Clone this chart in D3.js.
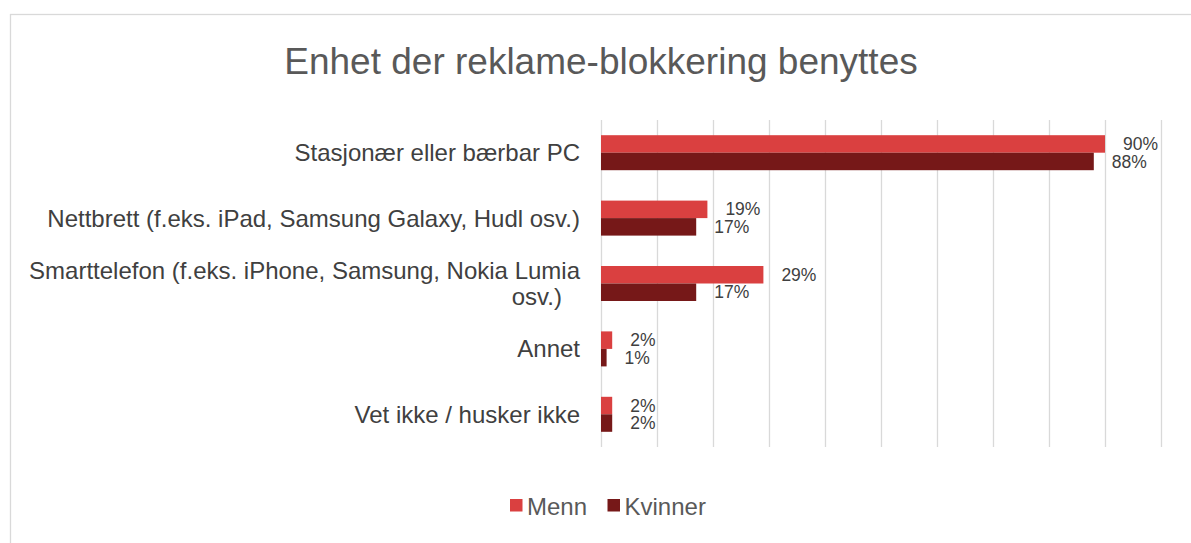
<!DOCTYPE html>
<html>
<head>
<meta charset="utf-8">
<script src="https://cdn.jsdelivr.net/npm/d3@7"></script>
<style>
  html, body { margin: 0; padding: 0; background: #fff; }
  svg { display: block; font-family: "Liberation Sans", Arial, sans-serif; }
</style>
</head>
<body>
<svg id="chart" width="1191" height="543"></svg>
<script>
// Categories (top to bottom); labels may wrap onto several lines
const categories = [
  "Stasjonær eller bærbar PC",
  "Nettbrett (f.eks. iPad, Samsung Galaxy, Hudl osv.)",
  "Smarttelefon (f.eks. iPhone, Samsung, Nokia Lumia osv.)",
  "Annet",
  "Vet ikke / husker ikke"
];
const categoryLines = [
  ["Stasjonær eller bærbar PC"],
  ["Nettbrett (f.eks. iPad, Samsung Galaxy, Hudl osv.)"],
  ["Smarttelefon (f.eks. iPhone, Samsung, Nokia Lumia", "osv.)"],
  ["Annet"],
  ["Vet ikke / husker ikke"]
];
const seriesNames = ["Menn", "Kvinner"];
const menn    = [90, 19, 29, 2, 2];
const kvinner = [88, 17, 17, 1, 2];
const seriesColors = ["#DA4040", "#761818"];
const xTicks = [0, 10, 20, 30, 40, 50, 60, 70, 80, 90, 100];
const title = "Enhet der reklame-blokkering benyttes";

const svg = d3.select("#chart");

// Outer chart frame
svg.append("rect")
  .attr("x", 10.5).attr("y", 14.5)
  .attr("width", 1200).attr("height", 600)
  .attr("fill", "#fff")
  .attr("stroke", "#d9d9d9").attr("stroke-width", 1.3);

// Title
svg.append("text")
  .attr("x", 601).attr("y", 74)
  .attr("text-anchor", "middle")
  .attr("fill", "#595959")
  .attr("font-size", 37)
  .text(title);

const plot = { left: 601, right: 1161, top: 120, bottom: 447 };

const x = d3.scaleLinear().domain([0, 100]).range([plot.left, plot.right]);
const y = d3.scaleBand().domain(categories).range([plot.top, plot.bottom]).padding(0);
const groupH = 35;
const ySub = d3.scaleBand().domain(seriesNames).range([0, groupH]).padding(0);

// Vertical gridlines
const grid = svg.append("g")
  .attr("transform", `translate(0,${plot.bottom})`)
  .call(d3.axisBottom(x).tickValues(xTicks).tickSize(-(plot.bottom - plot.top)).tickFormat(""));
grid.select(".domain").remove();
grid.selectAll(".tick line").attr("stroke", "#d9d9d9").attr("stroke-width", 1.3);

// Category labels
const catG = svg.append("g");
categories.forEach((c, i) => {
  const lines = categoryLines[i];
  const cy = y(c) + y.bandwidth() / 2;
  const lh = 25.5;
  const t = catG.append("text")
    .attr("fill", "#404040")
    .attr("font-size", 24)
    .attr("text-anchor", "end");
  lines.forEach((ln, j) => {
    const dy = (j - (lines.length - 1) / 2) * lh;
    const tx = (j === 0) ? plot.left - 21 : plot.left - 39;
    t.append("tspan")
      .attr("x", tx)
      .attr("y", cy + dy)
      .attr("dy", "0.35em")
      .text(ln);
  });
});

// Bars and value labels
const seriesData = [menn, kvinner];
seriesNames.forEach((s, si) => {
  const vals = seriesData[si];
  const g = svg.append("g");
  g.selectAll("rect")
    .data(vals)
    .join("rect")
    .attr("x", x(0))
    .attr("y", (d, i) => y(categories[i]) + y.bandwidth() / 2 - groupH / 2 + ySub(s))
    .attr("width", d => x(d) - x(0))
    .attr("height", ySub.bandwidth())
    .attr("fill", seriesColors[si]);
  g.selectAll("text")
    .data(vals)
    .join("text")
    .attr("x", d => x(d) + 18)
    .attr("y", (d, i) => y(categories[i]) + y.bandwidth() / 2 - groupH / 2 + ySub(s) + ySub.bandwidth() / 2)
    .attr("dy", "0.35em")
    .attr("fill", "#404040")
    .attr("font-size", 17.5)
    .text(d => d + "%");
});

// Legend
const legend = svg.append("g");
const legendItems = [
  { name: "Menn", color: seriesColors[0], x: 510 },
  { name: "Kvinner", color: seriesColors[1], x: 607.5 }
];
legendItems.forEach(it => {
  legend.append("rect")
    .attr("x", it.x).attr("y", 499)
    .attr("width", 12.5).attr("height", 12.5)
    .attr("fill", it.color);
  legend.append("text")
    .attr("x", it.x + 17).attr("y", 515)
    .attr("fill", "#595959")
    .attr("font-size", 24)
    .text(it.name);
});
</script>
</body>
</html>
